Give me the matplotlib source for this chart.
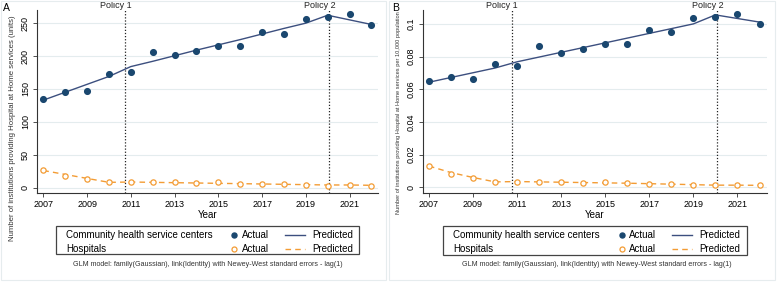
import matplotlib
matplotlib.use("Agg")
import matplotlib.pyplot as plt
from matplotlib.lines import Line2D
from matplotlib.patches import Rectangle

plt.rcParams['font.family'] = ['Liberation Sans', 'DejaVu Sans']

years = list(range(2007, 2023))
policy_x = [2010.75, 2020.07]
policy_labels = ["Policy 1", "Policy 2"]

# Panel A: number of institutions (units)
a_chsc_actual = [134, 145, 147, 173, 175, 206, 201, 208, 215, 216, 237, 234, 257, 259, 264, 247]
a_chsc_pred = [133, 145, 157, 169, 184, 192, 200.5, 209, 217, 225, 233.5, 242, 250, 262, 255, 248]
a_hosp_actual = [27, 18, 13, 8, 8, 8, 8, 7, 9, 6, 6, 5, 4, 3, 4, 3]
a_hosp_pred = [26, 20, 14, 8, 8.5, 8, 7.5, 7, 6.5, 6, 5.5, 5, 4.5, 4, 4, 3.5]
a_yticks = [0, 50, 100, 150, 200, 250]
a_yticklabels = ["0", "50", "100", "150", "200", "250"]

# Panel B: per 10,000 population
b_chsc_actual = [0.0650, 0.0678, 0.0664, 0.0753, 0.0740, 0.0862, 0.0823, 0.0845,
                 0.0876, 0.0876, 0.0961, 0.0948, 0.1033, 0.1043, 0.1060, 0.1000]
b_chsc_pred = [0.0643, 0.0672, 0.0701, 0.0730, 0.0768, 0.0797, 0.0826, 0.0855,
               0.0884, 0.0913, 0.0942, 0.0971, 0.1000, 0.1055, 0.1033, 0.1011]
b_hosp_actual = [0.0132, 0.0082, 0.0058, 0.0033, 0.0035, 0.0033, 0.0031, 0.0029,
                 0.0035, 0.0025, 0.0023, 0.0019, 0.0014, 0.0012, 0.0016, 0.0012]
b_hosp_pred = [0.0130, 0.0090, 0.0060, 0.0033, 0.0035, 0.0033, 0.0031, 0.0029,
               0.0027, 0.0025, 0.0022, 0.0019, 0.0016, 0.0013, 0.0013, 0.0012]
b_yticks = [0, 0.02, 0.04, 0.06, 0.08, 0.1]
b_yticklabels = ["0", "0.02", "0.04", "0.06", "0.08", "0.1"]

xticks = [2007, 2009, 2011, 2013, 2015, 2017, 2019, 2021]

NAVY = "#1a476f"
LINE_NAVY = "#3c4f7f"
ORANGE = "#f39c34"
GRID = "#e4ecee"

W, H = 777, 283
fig = plt.figure(figsize=(W / 100, H / 100), dpi=100)
fig.patch.set_facecolor("white")


def fx(px):
    return px / W


def fy(py):
    return 1 - py / H


# faint panel borders
for (x0, x1) in [(1, 386), (389, 775)]:
    fig.patches.append(Rectangle((fx(x0), fy(280)), fx(x1 - x0), (280 - 1) / H,
                                 transform=fig.transFigure, fill=False,
                                 edgecolor="#e6ecee", lw=0.8))


def panel(left, right, ylim, xlim, yticks, yticklabels, chsc_a, chsc_p, hosp_a, hosp_p,
          ylabel, ylabel_x, ylabel_yc, ylabel_fs, letter, letter_x, legend_box, legend_cols,
          note_x):
    ax = fig.add_axes([fx(left), fy(193), fx(right - left), (193 - 10) / H])
    ax.set_xlim(*xlim)
    ax.set_ylim(*ylim)
    for s in ["top", "right"]:
        ax.spines[s].set_visible(False)
    for s in ["left", "bottom"]:
        ax.spines[s].set_color("#333333")
        ax.spines[s].set_linewidth(0.8)
    ax.set_yticks(yticks)
    ax.set_yticklabels(yticklabels, rotation=90, va="center", fontsize=6.5)
    ax.set_xticks(xticks)
    ax.set_xticklabels([str(t) for t in xticks], fontsize=6.5)
    ax.tick_params(axis="both", length=3, width=0.6, color="#333333", pad=2)
    ax.grid(axis="y", color=GRID, lw=0.8)
    ax.set_axisbelow(True)

    ax.plot(years, hosp_p, color=ORANGE, lw=1.0, ls=(0, (4, 3)), zorder=3)
    ax.plot(years, hosp_a, ls="none", marker="o", ms=3.8, mfc="white", mec=ORANGE,
            mew=0.9, zorder=4)
    ax.plot(years, chsc_p, color=LINE_NAVY, lw=1.0, zorder=3)
    ax.plot(years, chsc_a, ls="none", marker="o", ms=4.1, color=NAVY, zorder=4)

    for px, lab in zip(policy_x, policy_labels):
        ax.axvline(px, color="#222222", lw=0.9, ls=(0, (1, 1.5)), zorder=2)
        ax.annotate(lab, xy=(px, 1.0), xycoords=("data", "axes fraction"),
                    xytext=(4.5, -0.3), textcoords="offset points",
                    ha="right", va="bottom", fontsize=6.5, color="#222222",
                    annotation_clip=False)

    ax.set_xlabel("Year", fontsize=7, labelpad=1)

    fig.text(fx(ylabel_x), fy(ylabel_yc), ylabel, rotation=90, ha="center", va="center",
             fontsize=ylabel_fs, color="#333333")
    fig.text(fx(letter_x), fy(8), letter, ha="left", va="center", fontsize=7.5)

    # legend box
    bx0, bx1, by0, by1 = legend_box
    fig.patches.append(Rectangle((fx(bx0), fy(by1)), fx(bx1 - bx0), (by1 - by0) / H,
                                 transform=fig.transFigure, fill=False,
                                 edgecolor="#444444", lw=0.9))
    tx, mx, ax_x, l0, l1, px_ = legend_cols
    rows = [(235, "Community health service centers", dict(marker="o", ms=3.6, color=NAVY, ls="none"),
             dict(color=LINE_NAVY, lw=1.0, ls="-")),
            (248.5, "Hospitals", dict(marker="o", ms=3.6, mfc="white", mec=ORANGE, mew=0.9, ls="none"),
             dict(color=ORANGE, lw=1.0, ls=(0, (4, 3))))]
    for ry, name, mk, ln in rows:
        fig.text(fx(tx), fy(ry), name, ha="left", va="center", fontsize=7)
        fig.lines.append(Line2D([fx(mx)], [fy(ry)], transform=fig.transFigure, **mk))
        fig.text(fx(ax_x), fy(ry), "Actual", ha="left", va="center", fontsize=7)
        fig.lines.append(Line2D([fx(l0), fx(l1)], [fy(ry), fy(ry)], transform=fig.transFigure, **ln))
        fig.text(fx(px_), fy(ry), "Predicted", ha="left", va="center", fontsize=7)

    fig.text(fx(note_x), fy(265),
             "GLM model: family(Gaussian), link(Identity) with Newey-West standard errors - lag(1)",
             ha="center", va="center", fontsize=5.1, color="#333333")
    return ax


panel(37, 378, (-8.2, 270), (2006.71, 2022.3), a_yticks, a_yticklabels,
      a_chsc_actual, a_chsc_pred, a_hosp_actual, a_hosp_pred,
      "Number of institutions providing Hospital at Home services (units)",
      13, 128, 5.6, "A", 3,
      (56, 359, 226, 254), (66, 234, 242, 285, 305, 312), 207.5)

panel(423, 767, (-0.0035, 0.1085), (2006.73, 2022.34), b_yticks, b_yticklabels,
      b_chsc_actual, b_chsc_pred, b_hosp_actual, b_hosp_pred,
      "Number of institutions providing Hospital at Home services per 10,000 population",
      398, 113, 4.1, "B", 392,
      (443, 747, 226, 255), (453, 622, 629, 672, 692, 699), 596.5)

fig.savefig("out.png", dpi=100)
